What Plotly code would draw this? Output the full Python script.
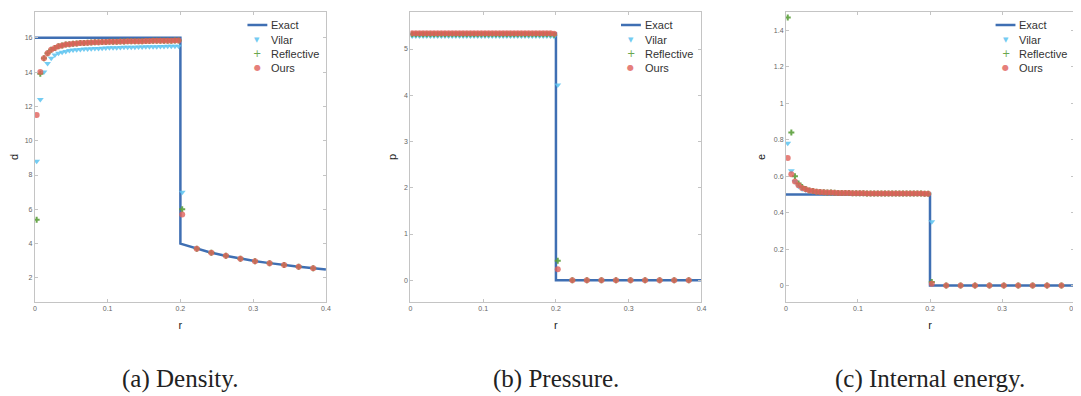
import plotly.graph_objects as go

# ---------------- data ----------------
r_in = [0.0025, 0.0075, 0.0125, 0.0175, 0.0225, 0.0275, 0.0325, 0.0375, 0.0425, 0.0475,
        0.0525, 0.0575, 0.0625, 0.0675, 0.0725, 0.0775, 0.0825, 0.0875, 0.0925, 0.0975,
        0.1025, 0.1075, 0.1125, 0.1175, 0.1225, 0.1275, 0.1325, 0.1375, 0.1425, 0.1475,
        0.1525, 0.1575, 0.1625, 0.1675, 0.1725, 0.1775, 0.1825, 0.1875, 0.1925, 0.1975]
r_shock = [0.2025]
r_out = [0.2225, 0.2425, 0.2625, 0.2825, 0.3025, 0.3225, 0.3425, 0.3625, 0.3825]

# density
d_ours_in = [11.5, 14.0, 14.8, 15.1, 15.3, 15.4, 15.5, 15.55, 15.6, 15.62,
             15.65, 15.67, 15.69, 15.7, 15.71, 15.72, 15.73, 15.74, 15.75, 15.75,
             15.76, 15.77, 15.77, 15.78, 15.78, 15.79, 15.79, 15.8, 15.8, 15.8,
             15.81, 15.81, 15.82, 15.82, 15.82, 15.83, 15.83, 15.83, 15.84, 15.84]
d_vilar_in = [8.8, 12.4, 14.0, 14.5, 14.8, 15.0, 15.1, 15.15, 15.2, 15.25,
              15.28, 15.3, 15.32, 15.34, 15.35, 15.36, 15.37, 15.38, 15.39, 15.4,
              15.41, 15.42, 15.42, 15.43, 15.44, 15.44, 15.45, 15.45, 15.46, 15.46,
              15.47, 15.47, 15.48, 15.48, 15.49, 15.49, 15.5, 15.5, 15.5, 15.51]
d_refl_in = [5.4, 13.9, 14.8, 15.1, 15.3, 15.4, 15.5, 15.55, 15.6, 15.62,
             15.65, 15.67, 15.69, 15.7, 15.71, 15.72, 15.73, 15.74, 15.75, 15.75,
             15.76, 15.77, 15.77, 15.78, 15.78, 15.79, 15.79, 15.8, 15.8, 15.8,
             15.81, 15.81, 15.82, 15.82, 15.82, 15.83, 15.83, 15.83, 15.84, 15.84]
d_shock = {"Vilar": [7.0], "Reflective": [6.0], "Ours": [5.7]}
d_out = [3.70, 3.47, 3.29, 3.12, 2.98, 2.86, 2.75, 2.66, 2.57]
d_exact_r = [0.0, 0.2, 0.2, 0.22, 0.24, 0.26, 0.28, 0.30, 0.32, 0.34, 0.36, 0.38, 0.40]
d_exact = [16.0, 16.0, 4.0, 3.73, 3.50, 3.31, 3.14, 3.00, 2.88, 2.76, 2.67, 2.58, 2.50]

# pressure
p_ours_in = [5.34, 5.34, 5.34, 5.34, 5.34, 5.34, 5.34, 5.34, 5.34, 5.34,
             5.34, 5.34, 5.34, 5.34, 5.34, 5.34, 5.34, 5.34, 5.34, 5.34,
             5.34, 5.34, 5.34, 5.34, 5.34, 5.34, 5.34, 5.34, 5.34, 5.34,
             5.34, 5.34, 5.34, 5.34, 5.34, 5.34, 5.34, 5.34, 5.34, 5.33]
p_vilar_in = [5.28, 5.28, 5.28, 5.28, 5.28, 5.28, 5.28, 5.28, 5.28, 5.28,
              5.28, 5.28, 5.28, 5.28, 5.28, 5.28, 5.28, 5.28, 5.28, 5.28,
              5.28, 5.28, 5.28, 5.28, 5.28, 5.28, 5.28, 5.28, 5.28, 5.28,
              5.28, 5.28, 5.28, 5.28, 5.28, 5.28, 5.28, 5.28, 5.28, 5.27]
p_refl_in = [5.32, 5.32, 5.32, 5.32, 5.32, 5.32, 5.32, 5.32, 5.32, 5.32,
             5.32, 5.32, 5.32, 5.32, 5.32, 5.32, 5.32, 5.32, 5.32, 5.32,
             5.32, 5.32, 5.32, 5.32, 5.32, 5.32, 5.32, 5.32, 5.32, 5.32,
             5.32, 5.32, 5.32, 5.32, 5.32, 5.32, 5.32, 5.32, 5.32, 5.31]
p_shock = {"Vilar": [4.22], "Reflective": [0.42], "Ours": [0.24]}
p_out = [0.0, 0.0, 0.0, 0.0, 0.0, 0.0, 0.0, 0.0, 0.0]
p_exact_r = [0.0, 0.2, 0.2, 0.4]
p_exact = [5.333, 5.333, 0.0, 0.0]

# internal energy
e_ours_in = [0.70, 0.61, 0.57, 0.55, 0.535, 0.528, 0.522, 0.518, 0.515, 0.513,
             0.512, 0.511, 0.510, 0.509, 0.508, 0.508, 0.507, 0.507, 0.506, 0.506,
             0.506, 0.506, 0.505, 0.505, 0.505, 0.505, 0.505, 0.505, 0.505, 0.505,
             0.505, 0.505, 0.505, 0.505, 0.505, 0.505, 0.505, 0.505, 0.504, 0.504]
e_vilar_in = [0.78, 0.63, 0.57, 0.545, 0.53, 0.524, 0.519, 0.516, 0.514, 0.512,
              0.511, 0.510, 0.509, 0.508, 0.508, 0.507, 0.507, 0.506, 0.506, 0.506,
              0.505, 0.505, 0.505, 0.505, 0.505, 0.505, 0.505, 0.505, 0.505, 0.505,
              0.505, 0.505, 0.505, 0.505, 0.505, 0.505, 0.505, 0.505, 0.504, 0.504]
e_refl_in = [1.47, 0.84, 0.60, 0.56, 0.54, 0.53, 0.522, 0.518, 0.515, 0.513,
             0.512, 0.511, 0.510, 0.509, 0.508, 0.508, 0.507, 0.507, 0.506, 0.506,
             0.506, 0.506, 0.505, 0.505, 0.505, 0.505, 0.505, 0.505, 0.505, 0.505,
             0.505, 0.505, 0.505, 0.505, 0.505, 0.505, 0.505, 0.505, 0.504, 0.504]
e_shock = {"Vilar": [0.35], "Reflective": [0.02], "Ours": [0.01]}
e_out = [0.0, 0.0, 0.0, 0.0, 0.0, 0.0, 0.0, 0.0, 0.0]
e_exact_r = [0.0, 0.2, 0.2, 0.4]
e_exact = [0.5, 0.5, 0.0, 0.0]

x_ticks = [0, 0.1, 0.2, 0.3, 0.4]
d_ticks = [2, 4, 6, 8, 10, 12, 14, 16]
p_ticks = [0, 1, 2, 3, 4, 5]
e_ticks = [0, 0.2, 0.4, 0.6, 0.8, 1, 1.2, 1.4]
captions = ["(a) Density.", "(b) Pressure.", "(c) Internal energy."]
y_titles = ["d", "p", "e"]
series_names = ["Exact", "Vilar", "Reflective", "Ours"]

# ---------------- styling ----------------
W, H = 1081, 396
OFF = 8  # default page margin of the html body


def X(px):
    return (px - OFF) / W


def Y(py):
    return 1 - (py - OFF) / H


C_EXACT = "#3f6fb3"
C_VILAR = "#5cc3f0"
C_REFL = "#5a9e3a"
C_OURS = "#e0605a"
styles = {
    "Vilar": dict(symbol="triangle-down", size=6, color=C_VILAR, opacity=0.85, glyph="▼", gsize=7),
    "Reflective": dict(symbol="cross", size=5, color=C_REFL, opacity=0.9, glyph="+", gsize=10),
    "Ours": dict(symbol="circle", size=6, color=C_OURS, opacity=0.8, glyph="●", gsize=8),
}

panels = [
    dict(inn={"Vilar": d_vilar_in, "Reflective": d_refl_in, "Ours": d_ours_in}, shock=d_shock, out=d_out,
         ex_r=d_exact_r, ex=d_exact, ticks=d_ticks, yr=[0.6, 17.5], px=(33, 326), leg=269),
    dict(inn={"Vilar": p_vilar_in, "Reflective": p_refl_in, "Ours": p_ours_in}, shock=p_shock, out=p_out,
         ex_r=p_exact_r, ex=p_exact, ticks=p_ticks, yr=[-0.47, 5.8], px=(411, 704), leg=645),
    dict(inn={"Vilar": e_vilar_in, "Reflective": e_refl_in, "Ours": e_ours_in}, shock=e_shock, out=e_out,
         ex_r=e_exact_r, ex=e_exact, ticks=e_ticks, yr=[-0.09, 1.5], px=(789, 1079), leg=1022),
]

fig = go.Figure()
top_px, bot_px = 12, 302
layout = {}
legend_rows = [25, 40, 54, 68]
for i, pn in enumerate(panels):
    xa = "x" if i == 0 else f"x{i+1}"
    ya = "y" if i == 0 else f"y{i+1}"
    fig.add_trace(go.Scatter(x=pn["ex_r"], y=pn["ex"], mode="lines", name="Exact",
                             line=dict(color=C_EXACT, width=2.5), xaxis=xa, yaxis=ya))
    for nm in ["Vilar", "Reflective", "Ours"]:
        st = styles[nm]
        xs = r_in + r_shock + r_out
        ys = pn["inn"][nm] + pn["shock"][nm] + pn["out"]
        fig.add_trace(go.Scatter(x=xs, y=ys, mode="markers", name=nm,
                                 marker=dict(symbol=st["symbol"], size=st["size"], color=st["color"],
                                             opacity=st["opacity"], line=dict(width=0)),
                                 xaxis=xa, yaxis=ya))
    x0, x1 = pn["px"]
    axstyle = dict(showline=True, linecolor="#c4c4c4", linewidth=1, mirror="ticks",
                   ticks="inside", ticklen=3, tickcolor="#c4c4c4", showgrid=False, zeroline=False,
                   tickfont=dict(family="Liberation Sans", size=7, color="#666666"))
    layout["xaxis" if i == 0 else f"xaxis{i+1}"] = dict(
        domain=[X(x0), X(x1)], range=[0, 0.4], tickvals=x_ticks, anchor=ya,
        title=dict(text="r", font=dict(family="Liberation Sans", size=11, color="#222"), standoff=9),
        **axstyle)
    layout["yaxis" if i == 0 else f"yaxis{i+1}"] = dict(
        domain=[Y(bot_px), Y(top_px)], range=pn["yr"], tickvals=pn["ticks"], anchor=xa,
        title=dict(text=y_titles[i], font=dict(family="Liberation Sans", size=11, color="#222"), standoff=5),
        **axstyle)

    # legend (drawn as annotations so rows are as tight as in the reference)
    tx = pn["leg"]
    for k, nm in enumerate(series_names):
        yy = Y(legend_rows[k])
        if nm == "Exact":
            fig.add_shape(type="line", xref="paper", yref="paper", x0=X(tx - 22), x1=X(tx - 2),
                          y0=yy, y1=yy, line=dict(color=C_EXACT, width=2.5))
        else:
            st = styles[nm]
            fig.add_annotation(text=st["glyph"], x=X(tx - 12), y=yy, xref="paper", yref="paper",
                               xanchor="center", yanchor="middle", showarrow=False,
                               font=dict(family="DejaVu Sans", size=st["gsize"], color=st["color"]),
                               opacity=st["opacity"])
        fig.add_annotation(text=nm, x=X(tx), y=yy, xref="paper", yref="paper",
                           xanchor="left", yanchor="middle", showarrow=False,
                           font=dict(family="Liberation Sans", size=11, color="#333"))

    fig.add_annotation(text=captions[i], x=X((x0 + x1) / 2), y=Y(379), xref="paper", yref="paper",
                       xanchor="center", yanchor="middle", showarrow=False,
                       font=dict(family="Liberation Serif", size=25, color="#222"))

fig.update_layout(width=W, height=H, margin=dict(l=0, r=0, t=0, b=0),
                  paper_bgcolor="white", plot_bgcolor="white", showlegend=False, **layout)
fig.write_html("out.html")
